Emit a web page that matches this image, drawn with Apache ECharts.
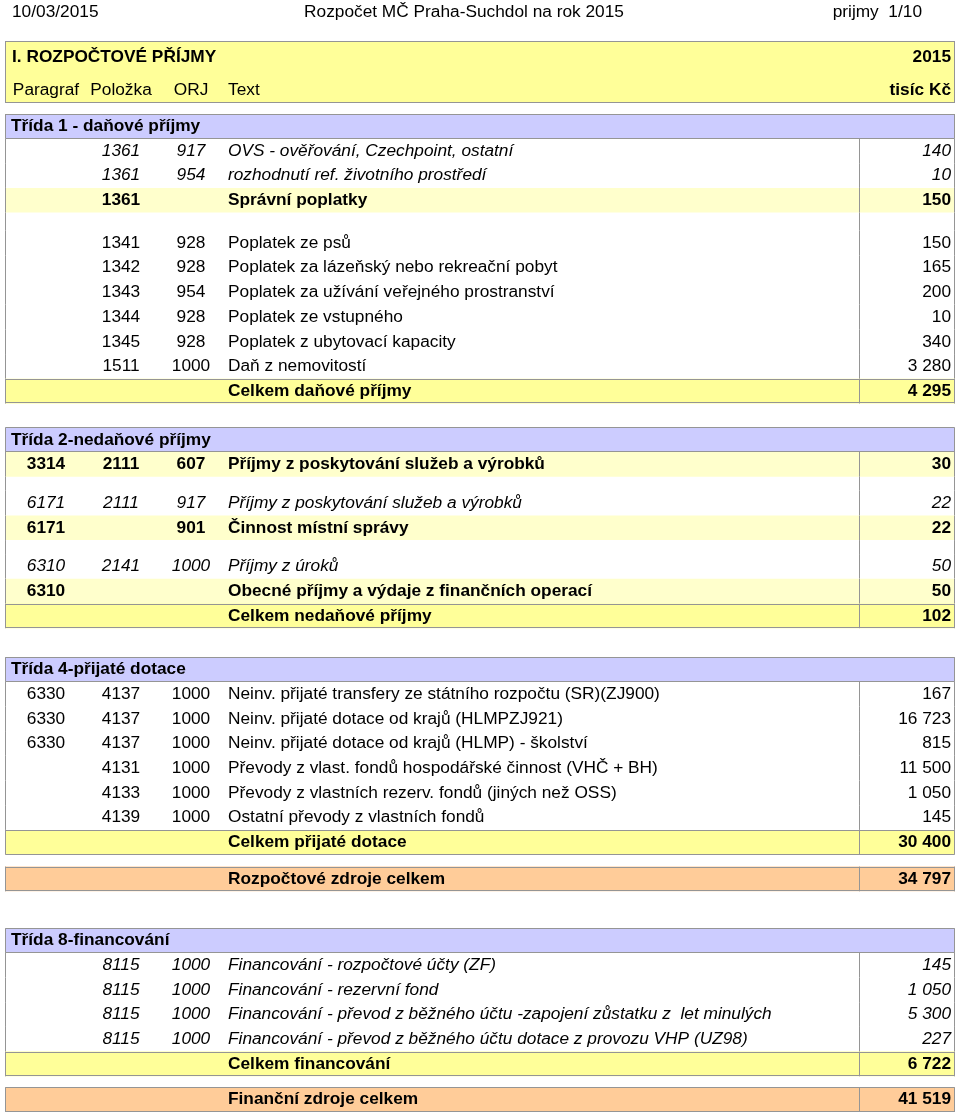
<!DOCTYPE html>
<html>
<head>
<meta charset="utf-8">
<script src="https://cdn.jsdelivr.net/npm/echarts@6/dist/echarts.min.js"></script>
<style>html,body{margin:0;padding:0;background:#fff}#c{width:960px;height:1116px}</style>
</head>
<body>
<div id="c"></div>
<script>
// ---------- DATA ----------
const pageHeader = ['10/03/2015', 'Rozpočet MČ Praha-Suchdol na rok 2015', 'prijmy  1/10'];
const tableTitle = ['I. ROZPOČTOVÉ PŘÍJMY', '2015'];
const columnLabels = ['Paragraf', 'Položka', 'ORJ', 'Text', 'tisíc Kč'];

// row: [style, paragraf, položka, ORJ, text, value]   style: n normal, i italic, s subtotal, t total, gap
const trida1Title = 'Třída 1 - daňové příjmy';
const trida1Rows = [
  ['i', '', '1361', '917', 'OVS - ověřování, Czechpoint, ostatní', 140],
  ['i', '', '1361', '954', 'rozhodnutí ref. životního prostředí', 10],
  ['s', '', '1361', '', 'Správní poplatky', 150],
  ['gap'],
  ['n', '', '1341', '928', 'Poplatek ze psů', 150],
  ['n', '', '1342', '928', 'Poplatek za lázeňský nebo rekreační pobyt', 165],
  ['n', '', '1343', '954', 'Poplatek za užívání veřejného prostranství', 200],
  ['n', '', '1344', '928', 'Poplatek ze vstupného', 10],
  ['n', '', '1345', '928', 'Poplatek z ubytovací kapacity', 340],
  ['n', '', '1511', '1000', 'Daň z nemovitostí', 3280],
  ['t', '', '', '', 'Celkem daňové příjmy', 4295]
];
const trida2Title = 'Třída 2-nedaňové příjmy';
const trida2Rows = [
  ['s', '3314', '2111', '607', 'Příjmy z poskytování služeb a výrobků', 30],
  ['gap'],
  ['i', '6171', '2111', '917', 'Příjmy z poskytování služeb a výrobků', 22],
  ['s', '6171', '', '901', 'Činnost místní správy', 22],
  ['gap'],
  ['i', '6310', '2141', '1000', 'Příjmy z úroků', 50],
  ['s', '6310', '', '', 'Obecné příjmy a výdaje z finančních operací', 50],
  ['t', '', '', '', 'Celkem nedaňové příjmy', 102]
];
const trida4Title = 'Třída 4-přijaté dotace';
const trida4Rows = [
  ['n', '6330', '4137', '1000', 'Neinv. přijaté transfery ze státního rozpočtu (SR)(ZJ900)', 167],
  ['n', '6330', '4137', '1000', 'Neinv. přijaté dotace od krajů (HLMPZJ921)', 16723],
  ['n', '6330', '4137', '1000', 'Neinv. přijaté dotace od krajů (HLMP) - školství', 815],
  ['n', '', '4131', '1000', 'Převody z vlast. fondů hospodářské činnost (VHČ + BH)', 11500],
  ['n', '', '4133', '1000', 'Převody z vlastních rezerv. fondů (jiných než OSS)', 1050],
  ['n', '', '4139', '1000', 'Ostatní převody z vlastních fondů', 145],
  ['t', '', '', '', 'Celkem přijaté dotace', 30400]
];
const rozpoctoveZdroje = ['g', '', '', '', 'Rozpočtové zdroje celkem', 34797];
const trida8Title = 'Třída 8-financování';
const trida8Rows = [
  ['i', '', '8115', '1000', 'Financování - rozpočtové účty (ZF)', 145],
  ['i', '', '8115', '1000', 'Financování - rezervní fond', 1050],
  ['i', '', '8115', '1000', 'Financování - převod z běžného účtu -zapojení zůstatku z  let minulých', 5300],
  ['i', '', '8115', '1000', 'Financování - převod z běžného účtu dotace z provozu VHP (UZ98)', 227],
  ['t', '', '', '', 'Celkem financování', 6722]
];
const financniZdroje = ['g', '', '', '', 'Finanční zdroje celkem', 41519];

// ---------- LAYOUT (styles / sizes only) ----------
const L = {
  pageH: 24, hdrTop: 41, hdrH: 31, secH: 24.5, rowH: 24.7,
  boxL: 5, boxR: 955, divX: 859,
  colP: 46, colPol: 121, colOrj: 191, colText: 228, colVal: 951, secText: 11, hdrText: 12,
  font: '"Liberation Sans", Arial, sans-serif', fs: 17.3,
  border: '#959595', yellow: '#FFFF99', pale: '#FFFFCC', blue: '#CCCCFF', orange: '#FFCC99'
};
const sequence = [
  ['page'], ['gapOut', L.hdrTop - L.pageH], ['hdr1'], ['hdr2'], ['gapOut', 11],
  ['section', trida1Title, trida1Rows, 18], ['gapOut', 24],
  ['section', trida2Title, trida2Rows, 14], ['gapOut', 29],
  ['section', trida4Title, trida4Rows, 0], ['gapOut', 12],
  ['grand', rozpoctoveZdroje], ['gapOut', 37],
  ['section', trida8Title, trida8Rows, 0], ['gapOut', 11],
  ['grand', financniZdroje]
];

// build draw items with cumulative positions (value-axis units)
const items = [];
let cursor = 0;
function push(kind, h, row, title) { items.push({ kind, top: cursor, h, row, title }); cursor += h; }
sequence.forEach(s => {
  const k = s[0];
  if (k === 'page') push('page', L.pageH);
  else if (k === 'gapOut') cursor += s[1];
  else if (k === 'hdr1' || k === 'hdr2') push(k, L.hdrH);
  else if (k === 'grand') push('g', L.rowH, s[1]);
  else if (k === 'section') {
    push('sec', L.secH, null, s[1]);
    s[2].forEach(r => {
      if (r[0] === 'gap') push('gap', s[3]);
      else push(r[0], L.rowH, r);
    });
  }
});

function fmt(v) { return String(v).replace(/\B(?=(\d{3})+(?!\d))/g, ' '); }

function renderItem(params, api) {
  const it = items[api.value(0)];
  const tl = api.coord([L.boxL, it.top]);
  const br = api.coord([L.boxR, it.top + it.h]);
  const x0 = Math.round(tl[0]) + 0.5, x1 = Math.round(br[0]) - 0.5;
  const y0 = tl[1], y1 = br[1];
  let ym = (y0 + y1) / 2;
  const yt = Math.round(y0) + 0.5, yb = Math.round(y1) - 0.5;
  const xAt = v => api.coord([v, it.top])[0];
  const divX = Math.round(xAt(L.divX)) + 0.5;
  const ch = [];
  const line = (a, b, c, d) => ch.push({ type: 'line', shape: { x1: a, y1: b, x2: c, y2: d }, style: { stroke: L.border, lineWidth: 1 } });
  const rect = fill => ch.push({ type: 'rect', shape: { x: tl[0], y: y0, width: br[0] - tl[0], height: y1 - y0 }, style: { fill } });
  const text = (t, x, align, weight, style) => {
    if (t === '' || t == null) return;
    ch.push({ type: 'text', style: { text: t, x: x, y: ym, align: align, verticalAlign: 'middle', fill: '#000',
      fontSize: L.fs, fontFamily: L.font, fontWeight: weight || 'normal', fontStyle: style || 'normal' } });
  };
  const k = it.kind;
  if (k === 'page') {
    text(pageHeader[0], xAt(12), 'left');
    text(pageHeader[1], xAt(464), 'center');
    text(pageHeader[2], xAt(922), 'right');
  } else if (k === 'hdr1' || k === 'hdr2') {
    rect(L.yellow);
    line(x0, y0, x0, y1); line(x1, y0, x1, y1);
    if (k === 'hdr1') {
      ym += 0.5;
      line(x0, yt, x1, yt);
      text(tableTitle[0], xAt(L.hdrText), 'left', 'bold');
      text(tableTitle[1], xAt(L.colVal), 'right', 'bold');
    } else {
      ym += 2.5;
      line(x0, yb, x1, yb);
      text(columnLabels[0], xAt(L.colP), 'center');
      text(columnLabels[1], xAt(L.colPol), 'center');
      text(columnLabels[2], xAt(L.colOrj), 'center');
      text(columnLabels[3], xAt(L.colText), 'left');
      text(columnLabels[4], xAt(L.colVal), 'right', 'bold');
    }
  } else if (k === 'sec') {
    rect(L.blue);
    line(x0, y0, x0, y1); line(x1, y0, x1, y1);
    line(x0, yt, x1, yt); line(x0, yb, x1, yb);
    text(it.title, xAt(L.secText), 'left', 'bold');
  } else {
    if (k === 's') rect(L.pale);
    if (k === 't') rect(L.yellow);
    if (k === 'g') rect(L.orange);
    line(x0, y0, x0, y1); line(x1, y0, x1, y1); line(divX, y0, divX, y1);
    if (k === 't' || k === 'g') { line(x0, yt, x1, yt); line(x0, yb, x1, yb); }
    if (it.row) {
      const r = it.row;
      const w = (k === 's' || k === 't' || k === 'g') ? 'bold' : 'normal';
      const st = k === 'i' ? 'italic' : 'normal';
      text(r[1], xAt(L.colP), 'center', w, st);
      text(r[2], xAt(L.colPol), 'center', w, st);
      text(r[3], xAt(L.colOrj), 'center', w, st);
      text(r[4], xAt(L.colText), 'left', w, st);
      text(fmt(r[5]), xAt(L.colVal), 'right', w, st);
    }
  }
  return { type: 'group', children: ch };
}

const chart = echarts.init(document.getElementById('c'), null, { renderer: 'canvas' });
chart.setOption({
  animation: false,
  grid: { left: 0, right: 0, top: 0, bottom: 0 },
  xAxis: { type: 'value', min: 0, max: 960, show: false },
  yAxis: { type: 'value', min: 0, max: 1116, inverse: true, show: false },
  series: [{
    type: 'custom', clip: false, silent: true,
    renderItem: renderItem,
    data: items.map((_, i) => [i])
  }]
});
</script>
</body>
</html>
